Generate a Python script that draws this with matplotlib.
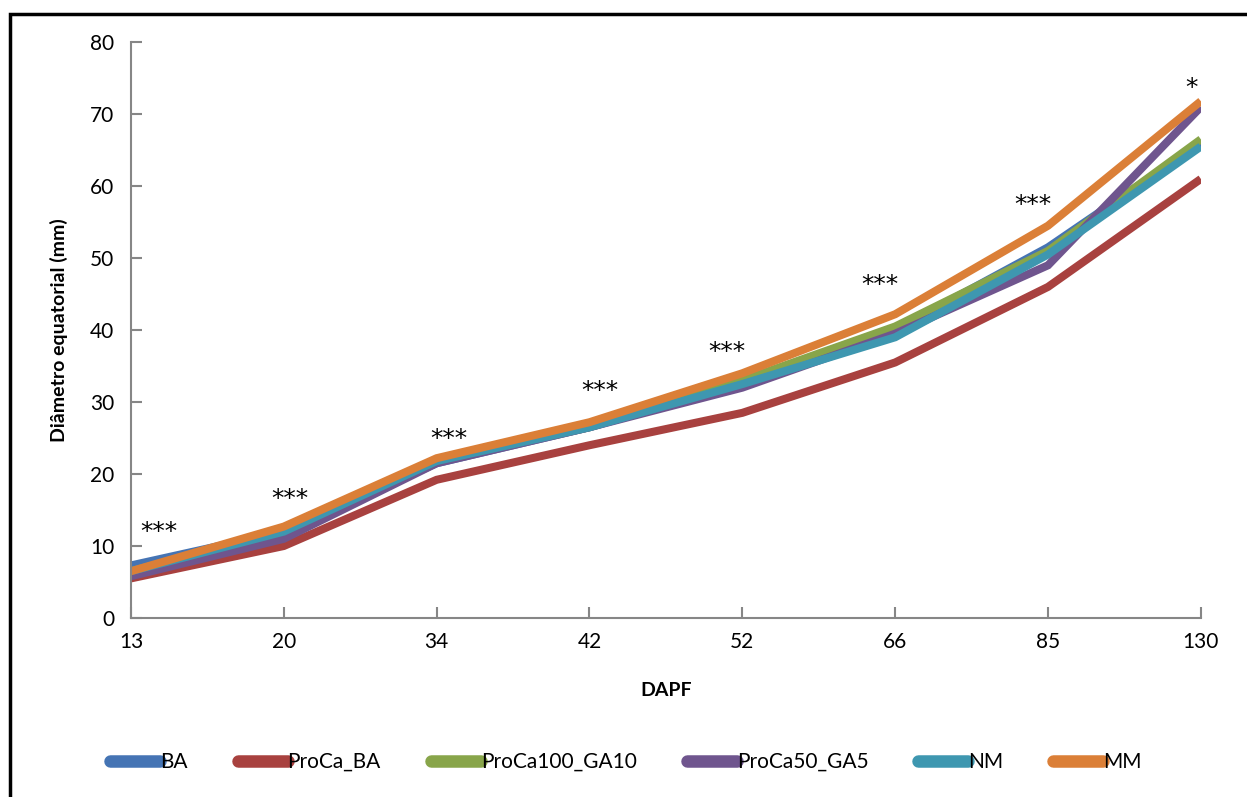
import matplotlib
matplotlib.use('agg')
from matplotlib import pyplot as plt
from matplotlib.patches import Rectangle

plt.rcParams['font.family'] = ['Lato', 'DejaVu Sans']

dapf = ['13', '20', '34', '42', '52', '66', '85', '130']
ba = [7.3, 12.0, 21.5, 26.5, 32.5, 40.0, 51.5, 66.0]
proca_ba = [5.5, 10.0, 19.2, 24.0, 28.5, 35.5, 46.0, 61.0]
proca100_ga10 = [6.5, 12.0, 21.8, 26.5, 33.0, 40.5, 51.0, 66.5]
proca50_ga5 = [5.8, 11.0, 21.5, 26.5, 32.0, 39.5, 49.0, 71.0]
nm = [6.5, 12.0, 21.8, 26.5, 32.5, 39.0, 50.5, 65.5]
mm = [6.5, 12.7, 22.2, 27.2, 34.0, 42.2, 54.5, 71.8]
signif = ['***', '***', '***', '***', '***', '***', '***', '*']
signif_y = [12.0, 16.6, 24.8, 31.6, 37.0, 46.3, 57.4, 73.6]

series = [('BA', ba, '#4574b4'),
          ('ProCa_BA', proca_ba, '#a8413f'),
          ('ProCa100_GA10', proca100_ga10, '#88a54a'),
          ('ProCa50_GA5', proca50_ga5, '#6f558e'),
          ('NM', nm, '#3e97b0'),
          ('MM', mm, '#db7f37')]

fig = plt.figure(figsize=(12.47, 7.97), dpi=100)
ax = fig.add_axes([0.105, 0.2246, 0.858, 0.7225])

x = list(range(len(dapf)))
for name, vals, col in series:
    ax.plot(x, vals, color=col, lw=5.8, label=name, solid_capstyle='butt',
            solid_joinstyle='miter')

offsets = [0.18, 0.04, 0.08, 0.07, -0.1, -0.1, -0.1, -0.06]
for i, (s, yv) in enumerate(zip(signif, signif_y)):
    ax.text(i + offsets[i], yv, s, ha='center', va='center', fontsize=18,
            family='DejaVu Sans')

ax.set_xlim(0, len(dapf) - 1)
ax.set_ylim(0, 80)
ax.set_xticks(x)
ax.set_xticklabels(dapf)
ax.set_yticks(range(0, 81, 10))
ax.tick_params(direction='in', colors='#868686', labelcolor='black',
               labelsize=15, length=8, width=1.5)
ax.tick_params(axis='x', pad=10)
ax.tick_params(axis='y', pad=12)
for sp in ['top', 'right']:
    ax.spines[sp].set_visible(False)
for sp in ['left', 'bottom']:
    ax.spines[sp].set_color('#868686')
    ax.spines[sp].set_linewidth(1.5)

ax.set_xlabel('DAPF', fontsize=14, fontweight='bold', labelpad=22)
ax.set_ylabel('Diâmetro equatorial (mm)', fontsize=14, fontweight='bold',
              labelpad=16)

leg = fig.legend(loc='center', bbox_to_anchor=(0.502, 0.044), ncol=6,
                 frameon=False, fontsize=15, handlelength=2.4,
                 handletextpad=0.0, columnspacing=2.4)
for h in leg.get_lines():
    h.set_linewidth(9)
    h.set_solid_capstyle('round')

fig.patches.append(Rectangle((10 / 1247, -0.1), 1.2, 1.1 - 14 / 797,
                             transform=fig.transFigure, fill=False,
                             edgecolor='black', lw=2.5))

fig.savefig('out.png', dpi=100)
